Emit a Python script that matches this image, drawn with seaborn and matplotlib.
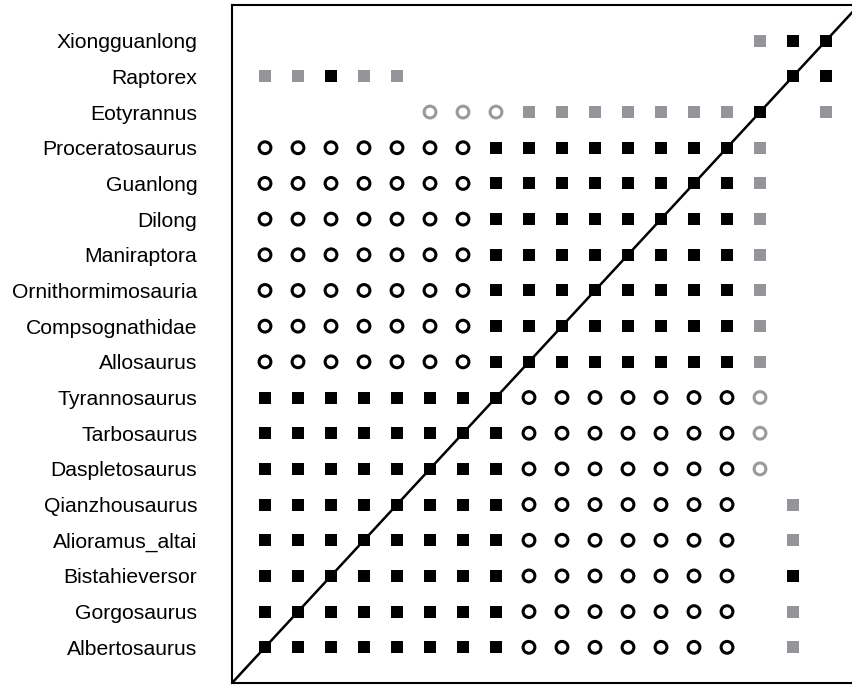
import matplotlib
matplotlib.use("Agg")
import matplotlib.pyplot as plt
import seaborn as sns
import pandas as pd

# Taxa, top to bottom
taxa = [
    "Xiongguanlong", "Raptorex", "Eotyrannus", "Proceratosaurus", "Guanlong",
    "Dilong", "Maniraptora", "Ornithormimosauria", "Compsognathidae", "Allosaurus",
    "Tyrannosaurus", "Tarbosaurus", "Daspletosaurus", "Qianzhousaurus",
    "Alioramus_altai", "Bistahieversor", "Gorgosaurus", "Albertosaurus",
]

# Cell codes per row (columns 1..18):
# B = black square, G = grey square, O = black open circle, o = grey open circle, . = empty
cells = [
    "...............GBB",
    "GGBGG...........BB",
    ".....oooGGGGGGGB.G",
    "OOOOOOOBBBBBBBBG..",
    "OOOOOOOBBBBBBBBG..",
    "OOOOOOOBBBBBBBBG..",
    "OOOOOOOBBBBBBBBG..",
    "OOOOOOOBBBBBBBBG..",
    "OOOOOOOBBBBBBBBG..",
    "OOOOOOOBBBBBBBBG..",
    "BBBBBBBBOOOOOOOo..",
    "BBBBBBBBOOOOOOOo..",
    "BBBBBBBBOOOOOOOo..",
    "BBBBBBBBOOOOOOO.G.",
    "BBBBBBBBOOOOOOO.G.",
    "BBBBBBBBOOOOOOO.B.",
    "BBBBBBBBOOOOOOO.G.",
    "BBBBBBBBOOOOOOO.G.",
]

n = len(taxa)
recs = []
for r, (name, row) in enumerate(zip(taxa, cells)):
    ypos = n - r
    for c, code in enumerate(row):
        if code != ".":
            recs.append({"x": c + 1, "y": ypos, "code": code})
df = pd.DataFrame(recs)

GREY = "#939598"

fig = plt.figure(figsize=(8.52, 6.85), dpi=100)
ax = fig.add_axes([232 / 852, 2 / 685, 627 / 852, 678 / 685])

ax.axline((0, 0), slope=1, color="black", lw=1.8, zorder=1)

sq = dict(marker="s", s=85, linewidth=0, zorder=3)
sns.scatterplot(data=df[df.code == "B"], x="x", y="y", color="black", ax=ax, **sq)
sns.scatterplot(data=df[df.code == "G"], x="x", y="y", color=GREY, ax=ax, **sq)
sns.scatterplot(data=df[df.code == "O"], x="x", y="y", marker="o", s=72,
                facecolor="none", edgecolor="black", linewidth=2.2, ax=ax, zorder=3)
sns.scatterplot(data=df[df.code == "o"], x="x", y="y", marker="o", s=72,
                facecolor="none", edgecolor="#9a9a9a", linewidth=2.2, ax=ax, zorder=3)

ax.set_xlim(0, 19)
ax.set_ylim(0, 19)
ax.set_xticks([])
ax.set_yticks(range(n, 0, -1))
ax.set_yticklabels(taxa, fontfamily="Liberation Sans", fontsize=15.2)
ax.tick_params(axis="y", length=0, pad=25)
ax.set_xlabel("")
ax.set_ylabel("")
for s in ax.spines.values():
    s.set_linewidth(1.5)
    s.set_color("black")

fig.savefig("out.png", dpi=100)
